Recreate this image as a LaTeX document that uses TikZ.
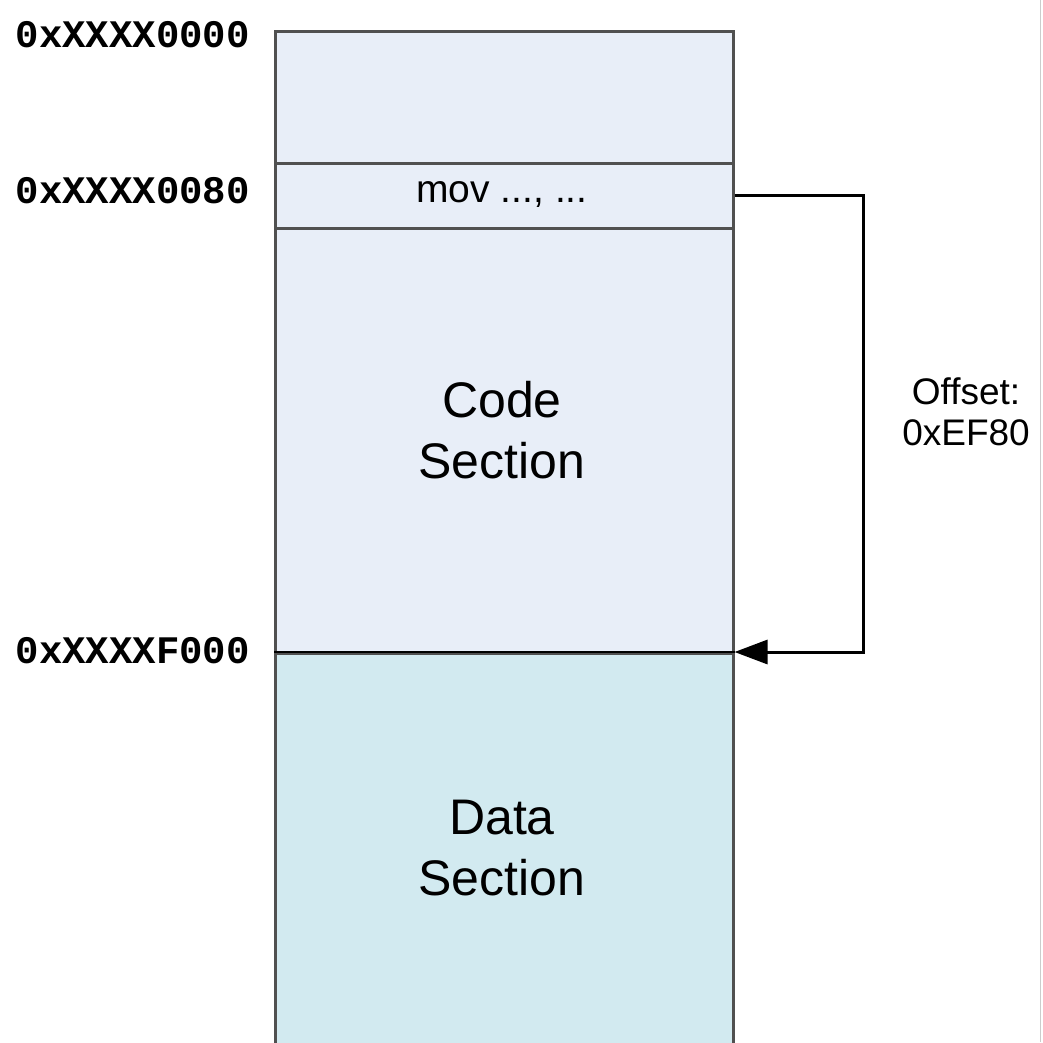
\documentclass[tikz,border=0pt]{standalone}
\usepackage{fontspec}
\setmainfont{Liberation Sans}
\setmonofont{Liberation Mono}
\usetikzlibrary{arrows.meta}
\definecolor{codefill}{HTML}{E8EEF8}
\definecolor{datafill}{HTML}{D2EAF0}
\definecolor{edgegray}{HTML}{505050}
\tikzset{
  region/.style={rectangle, draw=edgegray, line width=2.5pt, inner sep=0pt, minimum width=458pt},
  addr/.style={anchor=base east, inner sep=0pt, font=\fontsize{39}{39}\selectfont\ttfamily\bfseries},
  big/.style={align=center, inner sep=0pt, font=\fontsize{50}{61}\selectfont},
  small/.style={align=center, inner sep=0pt, font=\fontsize{37}{41}\selectfont},
  movfont/.style={anchor=base, inner sep=0pt, font=\fontsize{39}{39}\selectfont},
  link/.style={line width=3pt, -{Triangle[length=33pt,width=24pt]}, line join=miter}
}
\begin{document}
\begin{tikzpicture}[x=1pt,y=-1pt]
\useasboundingbox (0,0) rectangle (1043,1042);
\fill[white] (0,0) rectangle (1043,1042);
% regions
\node[region, fill=codefill, minimum height=623pt, anchor=north west] (code) at (274,30) {};
\node[region, fill=datafill, minimum height=420pt, anchor=north west] (data) at (274,652) {};
\node[region, fill=codefill, minimum height=65pt, anchor=north west] (mov) at (274,162) {};
\draw[black, line width=2pt] (data.north west) -- (data.north east);
% texts
\node[movfont] (movt) at (502,202) {mov ..., ...};
\node[big] (codet) at (502,430) {Code\\Section};
\node[big] (datat) at (502,848) {Data\\Section};
\node[addr] (a0) at (250,47) {0xXXXX0000};
\node[addr] (a1) at (250,203) {0xXXXX0080};
\node[addr] (a2) at (250,663) {0xXXXXF000};
\node[small] (off) at (966,412) {Offset:\\0xEF80};
% connector
\coordinate (turn) at (863,0);
\draw[link] (mov.east) -- (turn |- mov.east) -- (turn |- data.north east) -- (data.north east);
% faint frame line at right
\draw[gray!40, line width=1pt] (1040,0) -- (1040,1042);
\end{tikzpicture}
\end{document}
